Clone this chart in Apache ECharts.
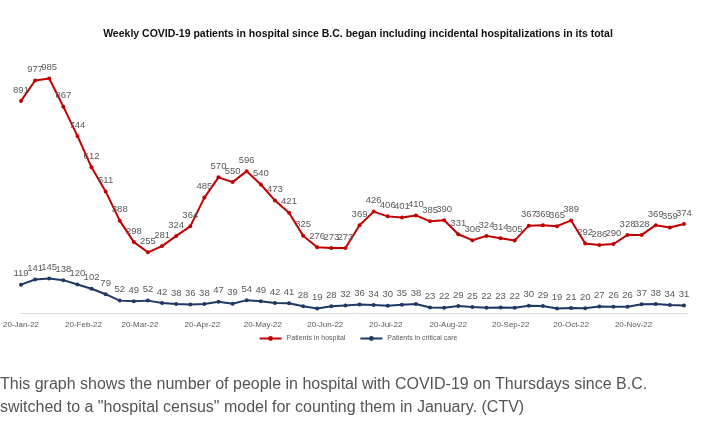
<!DOCTYPE html>
<html>
<head>
<meta charset="utf-8">
<script src="https://cdn.jsdelivr.net/npm/echarts@6/dist/echarts.min.js"></script>
<style>
body { margin: 0; background: #fff; }
#main { width: 716px; height: 431px; position: absolute; left: 0; top: 0; }
#cap { position: absolute; left: 0; top: 372px; width: 712px; font: 16px "Liberation Sans", Arial, sans-serif; line-height: 23px; color: #555; }
</style>
</head>
<body>
<div id="main"></div>
<div id="cap">This graph shows the number of people in hospital with COVID-19 on Thursdays since B.C. switched to a "hospital census" model for counting them in January. (CTV)</div>
<script>
var startDate = '2022-01-20';
var hospital = [891, 977, 985, 867, 744, 612, 511, 388, 298, 255, 281, 324, 364, 485, 570, 550, 596, 540, 473, 421,
    325, 276, 273, 273, 369, 426, 406, 401, 410, 385, 390, 331, 306, 324, 314, 305, 367, 369, 365, 389,
    292, 286, 290, 328, 328, 369, 359, 374];
var critical = [119, 141, 145, 138, 120, 102, 79, 52, 49, 52, 42, 38, 36, 38, 47, 39, 54, 49, 42, 41,
    28, 19, 28, 32, 36, 34, 30, 35, 38, 23, 22, 29, 25, 22, 23, 22, 30, 29, 19, 21,
    20, 27, 26, 26, 37, 38, 34, 31];
var tickDates = ['2022-01-20', '2022-02-20', '2022-03-20', '2022-04-20', '2022-05-20', '2022-06-20',
    '2022-07-20', '2022-08-20', '2022-09-20', '2022-10-20', '2022-11-20'];
var months = ['Jan', 'Feb', 'Mar', 'Apr', 'May', 'Jun', 'Jul', 'Aug', 'Sep', 'Oct', 'Nov', 'Dec'];

// x positions are days since the first Thursday
var day = 24 * 3600 * 1000;
var t0 = Date.parse(startDate + 'T00:00:00Z');
function pairs(arr) {
    return arr.map(function (v, i) { return [i * 7, v]; });
}
var ticks = tickDates.map(function (d) {
    return Math.round((Date.parse(d + 'T00:00:00Z') - t0) / day);
});

var myChart = echarts.init(document.getElementById('main'));
var labelStyle = { show: true, position: 'top', fontSize: 9.5, color: '#595959', distance: 4, fontFamily: 'Liberation Sans' };
var option = {
    animation: false,
    title: {
        text: 'Weekly COVID-19 patients in hospital since B.C. began including incidental hospitalizations in its total',
        left: 'center',
        top: 24,
        textStyle: { fontSize: 10.5, fontWeight: 'bold', color: '#111', fontFamily: 'Liberation Sans' }
    },
    legend: {
        bottom: 84,
        left: 'center',
        itemWidth: 22,
        itemHeight: 6,
        itemGap: 14,
        textStyle: { fontSize: 7, color: '#595959' },
        data: ['Patients in hospital', 'Patients in critical care']
    },
    grid: { left: 20, right: 28, top: 75, bottom: 118 },
    xAxis: {
        type: 'value',
        min: 0,
        max: 47 * 7 + 2,
        axisLine: { show: true, onZero: false, lineStyle: { color: '#d9d9d9' } },
        axisTick: { show: false },
        splitLine: { show: false },
        axisLabel: {
            customValues: ticks,
            fontSize: 8,
            color: '#595959',
            margin: 8,
            formatter: function (val) {
                var d = new Date(t0 + val * day);
                return d.getUTCDate() + '-' + months[d.getUTCMonth()] + '-' + String(d.getUTCFullYear()).slice(2);
            }
        }
    },
    yAxis: {
        type: 'value',
        min: 0,
        max: 1000,
        show: false,
        splitLine: { show: false }
    },
    series: [
        {
            name: 'Patients in hospital',
            type: 'line',
            data: pairs(hospital),
            color: '#c00000',
            lineStyle: { width: 2 },
            symbol: 'circle',
            symbolSize: 4,
            label: labelStyle
        },
        {
            name: 'Patients in critical care',
            type: 'line',
            data: pairs(critical),
            color: '#1f3864',
            lineStyle: { width: 2 },
            symbol: 'circle',
            symbolSize: 4,
            label: labelStyle
        }
    ]
};
myChart.setOption(option);
</script>
</body>
</html>
